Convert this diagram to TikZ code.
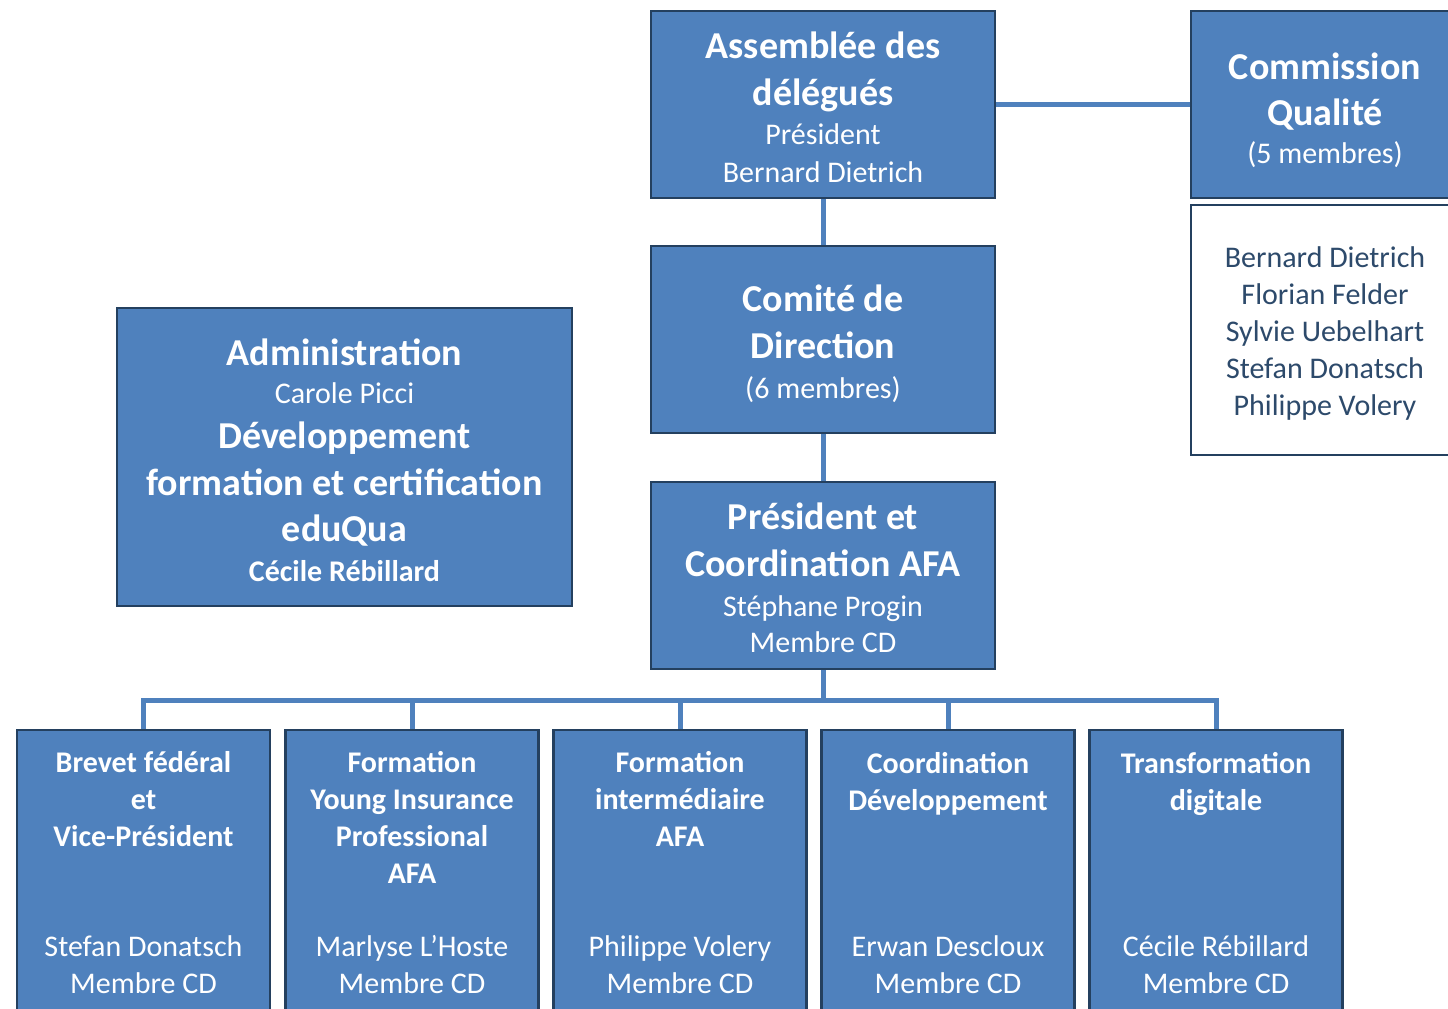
\documentclass[tikz,border=0pt]{standalone}
\usepackage{fontspec}
\setmainfont{Carlito}
\definecolor{afablue}{HTML}{4F81BD}
\definecolor{afaline}{HTML}{24405F}
\definecolor{afatext}{HTML}{2D4A6B}
\newcommand\hd[1]{{\fontsize{38}{46}\selectfont\bfseries #1}}
\tikzset{
  unit/.style={draw=afaline, line width=2.5pt, fill=afablue, inner sep=0pt},
  topunit/.style={unit, minimum width=344, minimum height=187},
  subunit/.style={unit, minimum width=253, minimum height=285},
  unittext/.style={text=white, align=center, inner sep=0pt, font=\fontsize{30}{37}\selectfont},
  unithead/.style={unittext, font=\fontsize{30}{37}\selectfont\bfseries},
  link/.style={draw=afablue, line width=5pt},
}
\begin{document}
\begin{tikzpicture}[x=1pt,y=-1pt]
\useasboundingbox (0,0) rectangle (1448,1009);
\clip (0,0) rectangle (1448,1009);
\fill[white] (0,0) rectangle (1448,1009);

\node[topunit] (asm) at (823,104.5) {};
\node[topunit] (cdir) at (823,339.5) {};
\node[topunit] (pres) at (823,575.5) {};
\node[unit, minimum width=268, minimum height=187] (cq) at (1325,104.5) {};
\node[unit, fill=white, minimum width=268, minimum height=250] (cqlist) at (1325,330) {};
\node[unit, minimum width=455, minimum height=298] (admin) at (344.5,457) {};

\node[unittext] (asm-t) at (823,107.75) {\hd{Assemblée des}\\[10pt]\hd{délégués}\\[2pt]Président\\[1pt]Bernard Dietrich};
\node[unittext] (cdir-t) at (823,343.5) {\hd{Comité de}\\[10pt]\hd{Direction}\\[3pt](6 membres)};
\node[unittext] (pres-t) at (823,577.5) {\hd{Président et}\\[10pt]\hd{Coordination AFA}\\[3pt]Stéphane Progin\\[-1pt]Membre CD};
\node[unittext] (cq-t) at (1325,110) {\hd{Commission}\\[9pt]\hd{Qualité}\\[1pt](5 membres)};
\node[unittext, text=afatext] (cqlist-t) at (1325,333)
  {Bernard Dietrich\\Florian Felder\\Sylvie Uebelhart\\Stefan Donatsch\\Philippe Volery};
\node[unittext] (admin-t) at (344.5,460.5)
  {\hd{Administration}\\[1pt]Carole Picci\\[8pt]\hd{Développement}\\[10pt]\hd{formation et certification}\\[9pt]\hd{eduQua}\\[3pt]\textbf{Cécile Rébillard}};

\node[subunit] (brevet) at (143.5,872.5) {};
\node[subunit] (young) at (412,872.5) {};
\node[subunit] (inter) at (680,872.5) {};
\node[subunit] (coord) at (948,872.5) {};
\node[subunit] (digit) at (1216,872.5) {};

\node[unithead] (brevet-t) at (143.5,799) {Brevet fédéral\\et\\Vice-Président};
\node[unithead] (young-t) at (412,817) {Formation\\Young Insurance\\Professional\\AFA};
\node[unithead] (inter-t) at (680,799) {Formation\\intermédiaire\\AFA};
\node[unithead] (coord-t) at (948,784) {Coordination\\Développement};
\node[unithead] (digit-t) at (1216,784) {Transformation\\digitale};

\node[unittext] (brevet-n) at (143.5,964.5) {Stefan Donatsch\\Membre CD};
\node[unittext] (young-n) at (412,964.5) {Marlyse L’Hoste\\Membre CD};
\node[unittext] (inter-n) at (680,964.5) {Philippe Volery\\Membre CD};
\node[unittext] (coord-n) at (948,964.5) {Erwan Descloux\\Membre CD};
\node[unittext] (digit-n) at (1216,964.5) {Cécile Rébillard\\Membre CD};

\coordinate (bus) at (823,700);
\draw[link] (asm.east) -- (cq.west);
\draw[link] (asm.south) -- (cdir.north);
\draw[link] (cdir.south) -- (pres.north);
\draw[link] (pres.south) -- (bus);
\draw[link] (brevet.north) |- (bus) -| (digit.north);
\draw[link] (young.north) -- (young.north |- bus);
\draw[link] (inter.north) -- (inter.north |- bus);
\draw[link] (coord.north) -- (coord.north |- bus);
\end{tikzpicture}
\end{document}
